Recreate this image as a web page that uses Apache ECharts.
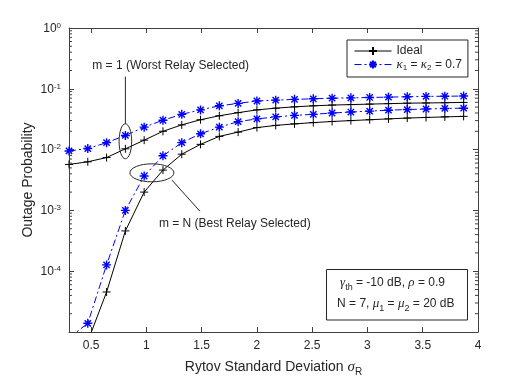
<!DOCTYPE html>
<html>
<head>
<meta charset="utf-8">
<script src="https://cdn.jsdelivr.net/npm/echarts@6/dist/echarts.min.js"></script>
<style>
html, body { margin: 0; padding: 0; background: #fff; }
#main { width: 529px; height: 382px; }
</style>
</head>
<body>
<div id="main"></div>
<script>
// Rytov standard deviation (x) and outage probability curves
var sigmaR = [0.3, 0.47, 0.64, 0.81, 0.98, 1.15, 1.32, 1.49, 1.66, 1.83, 2.0,
  2.17, 2.34, 2.51, 2.68, 2.85, 3.02, 3.19, 3.36, 3.53, 3.70, 3.87];

// m = 1 (worst relay)
var worstIdeal = [5.7e-3, 6.3e-3, 7.4e-3, 1.03e-2, 1.43e-2, 2.0e-2, 2.55e-2, 3.1e-2, 3.6e-2, 4.05e-2, 4.5e-2,
  4.8e-2, 5.05e-2, 5.25e-2, 5.4e-2, 5.5e-2, 5.6e-2, 5.7e-2, 5.8e-2, 5.85e-2, 5.9e-2, 5.97e-2];
var worstKappa = [9.5e-3, 1.04e-2, 1.3e-2, 1.71e-2, 2.34e-2, 3.04e-2, 3.8e-2, 4.5e-2, 5.25e-2, 5.75e-2, 6.3e-2,
  6.5e-2, 6.7e-2, 6.85e-2, 7.0e-2, 7.1e-2, 7.2e-2, 7.3e-2, 7.4e-2, 7.5e-2, 7.55e-2, 7.6e-2];

// m = N (best relay)
var bestIdeal = [1.5e-6, 7e-6, 4.55e-5, 4.6e-4, 2.0e-3, 4.6e-3, 8.4e-3, 1.22e-2, 1.65e-2, 1.94e-2, 2.3e-2,
  2.5e-2, 2.65e-2, 2.78e-2, 2.9e-2, 3.0e-2, 3.1e-2, 3.2e-2, 3.3e-2, 3.38e-2, 3.45e-2, 3.52e-2];
var bestKappa = [8e-6, 1.39e-5, 1.27e-4, 1.0e-3, 3.68e-3, 7.9e-3, 1.3e-2, 1.82e-2, 2.34e-2, 2.88e-2, 3.2e-2,
  3.45e-2, 3.65e-2, 3.8e-2, 4.0e-2, 4.15e-2, 4.3e-2, 4.45e-2, 4.56e-2, 4.65e-2, 4.75e-2, 4.8e-2];

var yDecades = [-5, -4, -3, -2, -1];
var minorMult = [2, 3, 4, 5, 6, 7, 8, 9];

var FONT = 'Liberation Sans';
var TXT = '#262626';
var AX = '#404040';
var PLUS = 'path://M0,5L10,5M5,0L5,10';
var STAR = 'path://M0,5L10,5M5,0L5,10M1.5,1.5L8.5,8.5M8.5,1.5L1.5,8.5';
var KAPPA_NAME = 'kappa';

function pairs(arr) {
  return sigmaR.map(function (x, i) { return [x, arr[i]]; });
}

function idealSeries(arr) {
  return {
    name: 'Ideal', type: 'line', data: pairs(arr),
    symbol: PLUS, symbolSize: 8, showAllSymbol: true,
    lineStyle: { color: '#000', width: 1 },
    itemStyle: { color: '#000', borderColor: '#000', borderWidth: 1 },
    z: 3
  };
}
function kappaSeries(arr) {
  return {
    name: KAPPA_NAME, type: 'line', data: pairs(arr),
    symbol: STAR, symbolSize: 9, showAllSymbol: true,
    lineStyle: { color: '#0000ff', width: 1, type: [7, 3, 2, 3] },
    itemStyle: { color: '#0000ff', borderColor: '#0000ff', borderWidth: 1.4 },
    z: 4
  };
}

var chart = echarts.init(document.getElementById('main'));

var axisCommon = {
  axisLine: { show: true, lineStyle: { color: AX, width: 1 } },
  axisTick: { show: true, inside: true, length: 5, lineStyle: { color: AX } },
  splitLine: { show: false }
};

var option = {
  animation: false,
  backgroundColor: '#fff',
  grid: { left: 69, right: 51, top: 28, bottom: 46, containLabel: false },
  xAxis: [
    Object.assign({
      type: 'value', min: 0.3, max: 4, splitNumber: 8, position: 'bottom',
      name: '{n|Rytov Standard Deviation }{g|σ}{s|R}',
      nameLocation: 'middle', nameGap: 25, nameMoveOverlap: false,
      nameTextStyle: {
        color: TXT, fontFamily: FONT, fontSize: 14,
        rich: {
          n: { fontFamily: FONT, fontSize: 14, color: TXT, lineHeight: 20 },
          g: { fontFamily: 'Liberation Serif', fontStyle: 'italic', fontSize: 15, color: TXT, lineHeight: 20 },
          s: { fontFamily: FONT, fontSize: 10, color: TXT, lineHeight: 10, verticalAlign: 'bottom' }
        }
      },
      axisLabel: { color: TXT, fontFamily: FONT, fontSize: 12, margin: 8, showMinLabel: false }
    }, axisCommon),
    Object.assign({
      type: 'value', min: 0.3, max: 4, splitNumber: 8, position: 'top',
      axisLabel: { show: false }
    }, axisCommon)
  ],
  yAxis: [
    Object.assign({
      type: 'log', logBase: 10, min: 1e-5, max: 1, position: 'left',
      name: 'Outage Probability', nameLocation: 'middle', nameGap: 34, nameMoveOverlap: false,
      nameTextStyle: { color: TXT, fontFamily: FONT, fontSize: 14 },
      axisLabel: {
        color: TXT, fontFamily: FONT, fontSize: 12, margin: 8, showMinLabel: false,
        formatter: function (v) {
          var e = Math.round(Math.log10(v));
          return '{b|10}{e|' + e + '}';
        },
        rich: {
          b: { fontFamily: FONT, fontSize: 12, color: TXT, lineHeight: 13, verticalAlign: 'bottom' },
          e: { fontFamily: FONT, fontSize: 8, color: TXT, lineHeight: 8, verticalAlign: 'top' }
        }
      }
    }, axisCommon),
    Object.assign({
      type: 'log', logBase: 10, min: 1e-5, max: 1, position: 'right',
      axisLabel: { show: false }
    }, axisCommon)
  ],
  legend: {
    data: ['Ideal', KAPPA_NAME],
    orient: 'vertical', left: 347, top: 40,
    itemWidth: 37, itemHeight: 10, itemGap: 1,
    padding: [5, 6, 5, 7],
    borderColor: '#262626', borderWidth: 1, backgroundColor: '#fff',
    lineStyle: { width: 1 },
    formatter: function (name) {
      if (name === 'Ideal') return '{n|Ideal}';
      return '{k|κ}{s|1}{n| = }{k|κ}{s|2}{n| = 0.7}';
    },
    textStyle: {
      color: TXT, fontFamily: FONT, fontSize: 12,
      rich: {
        n: { fontFamily: FONT, fontSize: 12, color: TXT, lineHeight: 15 },
        k: { fontFamily: 'Liberation Serif', fontStyle: 'italic', fontSize: 13, color: TXT, lineHeight: 15 },
        s: { fontFamily: FONT, fontSize: 8, color: TXT, lineHeight: 6, verticalAlign: 'bottom' }
      }
    }
  },
  series: [
    idealSeries(worstIdeal),
    kappaSeries(worstKappa),
    idealSeries(bestIdeal),
    kappaSeries(bestKappa)
  ]
};

chart.setOption(option);

// annotations and minor log ticks, placed through the chart's own scales
function px(x, y) { return chart.convertToPixel({ seriesIndex: 0 }, [x, y]); }

var g = [];
var e1 = px(0.81, 0.0137);
var t1 = px(1.22, 0.241);
var e2 = px(1.05, 0.00415);
var l2a = px(1.23, 0.00317), l2b = px(1.484, 0.00097);
var t2 = px(1.8, 0.000603);
var lineStyle = { stroke: '#262626', lineWidth: 1, fill: 'none' };

g.push({ type: 'ellipse', shape: { cx: e1[0], cy: e1[1], rx: 6.3, ry: 17.5 }, style: lineStyle, z: 10 });
g.push({ type: 'line', shape: { x1: e1[0], y1: e1[1] - 17.5, x2: e1[0], y2: t1[1] + 11 }, style: lineStyle, z: 10 });
g.push({ type: 'text', x: t1[0], y: t1[1], style: { text: 'm = 1 (Worst Relay Selected)', fill: TXT, font: '12px "Liberation Sans"', align: 'center', verticalAlign: 'middle' }, z: 10 });
g.push({ type: 'ellipse', shape: { cx: e2[0], cy: e2[1], rx: 22, ry: 9 }, style: lineStyle, z: 10 });
g.push({ type: 'line', shape: { x1: l2a[0], y1: l2a[1], x2: l2b[0], y2: l2b[1] }, style: lineStyle, z: 10 });
g.push({ type: 'text', x: t2[0], y: t2[1], style: { text: 'm = N (Best Relay Selected)', fill: TXT, font: '12px "Liberation Sans"', align: 'center', verticalAlign: 'middle' }, z: 10 });

// parameter box
var boxRich = {
  n: { fontFamily: FONT, fontSize: 12, fill: TXT, lineHeight: 18 },
  g: { fontFamily: 'Liberation Serif', fontStyle: 'italic', fontSize: 13, fill: TXT, lineHeight: 18 },
  s: { fontFamily: FONT, fontSize: 9, fill: TXT, lineHeight: 9, verticalAlign: 'bottom' }
};
g.push({ type: 'rect', shape: { x: 326.5, y: 269.5, width: 141, height: 50.5 }, style: { fill: '#fff', stroke: '#262626', lineWidth: 1 }, z: 10 });
g.push({ type: 'text', x: 392.5, y: 283, style: { text: '{g|γ}{s|th}{n| = -10 dB, }{g|ρ}{n| = 0.9}', rich: boxRich, align: 'center', verticalAlign: 'middle' }, z: 11 });
g.push({ type: 'text', x: 395.8, y: 304, style: { text: '{n|N = 7, }{g|μ}{s|1}{n| = }{g|μ}{s|2}{n| = 20 dB}', rich: boxRich, align: 'center', verticalAlign: 'middle' }, z: 11 });

// minor ticks on left and right log axes
yDecades.forEach(function (d) {
  minorMult.forEach(function (m) {
    var v = m * Math.pow(10, d);
    var pl = px(0.3, v), pr = px(4, v);
    g.push({ type: 'line', shape: { x1: pl[0], y1: pl[1], x2: pl[0] + 3, y2: pl[1] }, style: { stroke: AX, lineWidth: 1 }, z: 9 });
    g.push({ type: 'line', shape: { x1: pr[0], y1: pr[1], x2: pr[0] - 3, y2: pr[1] }, style: { stroke: AX, lineWidth: 1 }, z: 9 });
  });
});

chart.setOption({ graphic: g });
</script>
</body>
</html>
